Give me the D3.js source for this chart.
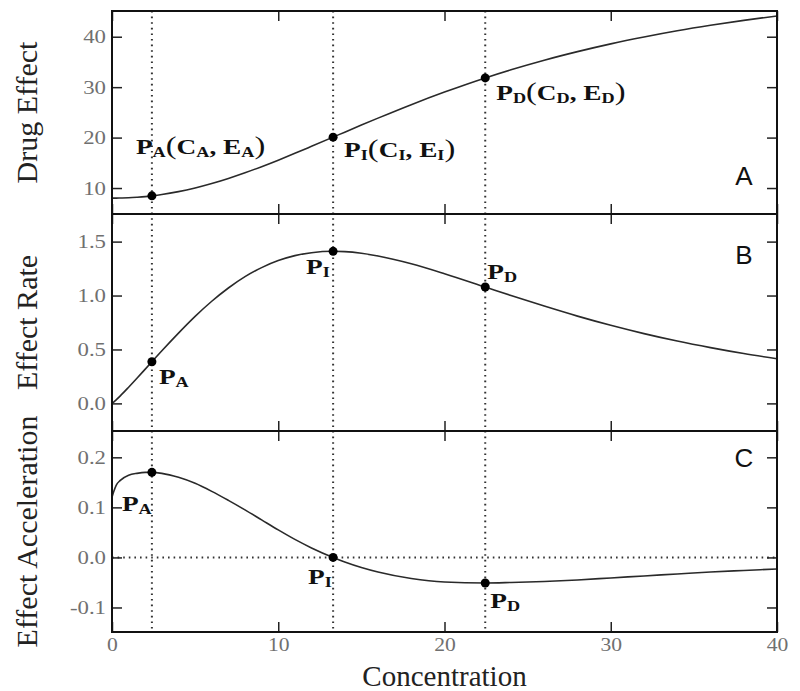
<!DOCTYPE html>
<html>
<head>
<meta charset="utf-8">
<script src="https://cdn.jsdelivr.net/npm/d3@7"></script>
<style>
  body { margin: 0; background: #fff; }
</style>
</head>
<body>
<div class="chart"></div>
<script>
// concentration grid
const conc = [0, 0.1, 0.25, 0.5, 1, 1.5, 2, 2.4, 3, 4,
  5, 6, 7, 8, 9, 10, 11, 12, 13.3, 14,
  15, 16, 18, 20, 22.45, 24, 26, 28, 30, 32,
  34, 36, 38, 40]

// panel A: drug effect
const effect = [8.0, 8.0, 8.0, 8.02, 8.07, 8.17, 8.30, 8.45, 8.71, 9.28,
  10.01, 10.89, 11.90, 13.02, 14.24, 15.53, 16.88, 18.27, 20.09, 21.08,
  22.48, 23.86, 26.53, 29.02, 31.83, 33.44, 35.34, 37.04, 38.58, 39.94,
  41.17, 42.26, 43.24, 44.12]

// panel B: effect rate
const rate = [0, 0.012, 0.033, 0.070, 0.150, 0.233, 0.318, 0.386, 0.488, 0.652,
  0.807, 0.947, 1.070, 1.175, 1.259, 1.324, 1.370, 1.397, 1.410, 1.407,
  1.392, 1.367, 1.295, 1.203, 1.079, 1.000, 0.902, 0.809, 0.724, 0.647,
  0.578, 0.517, 0.462, 0.414]

// panel C: effect acceleration
const accel = [0.120, 0.131, 0.144, 0.154, 0.164, 0.168, 0.170, 0.170, 0.168, 0.160,
  0.148, 0.132, 0.114, 0.095, 0.075, 0.055, 0.036, 0.019, 0.000, -0.009,
  -0.020, -0.029, -0.042, -0.049, -0.051, -0.050, -0.048, -0.045, -0.041, -0.037,
  -0.033, -0.029, -0.026, -0.023]

// the three marked points P_A, P_I, P_D
const keyNames = ["A", "I", "D"]
const keyConc = [2.4, 13.3, 22.45]
const keyEffect = [8.45, 20.09, 31.83]
const keyRate = [0.386, 1.410, 1.079]
const keyAccel = [0.170, 0.000, -0.051]

// tick labels
const xTicks = [0, 10, 20, 30, 40]
const effectTicks = [10, 20, 30, 40]
const rateTicks = [0, 0.5, 1.0, 1.5]
const accelTicks = [-0.1, 0, 0.1, 0.2]

const width = 800, height = 691
const left = 112, right = 777
const serif = "'Liberation Serif','Times New Roman',serif"

const svg = d3.select('.chart')
  .append('svg')
  .attr('width', width)
  .attr('height', height)
  .style('background', '#fff')

const x = d3.scaleLinear().domain([0, 40]).range([left, right])

// panel settings (label offsets are pixels from each marked point)
const panels = [
  {top: 11, bottom: 214, domain: [4.85, 45.1], ticks: effectTicks, fmt: d => d,
   values: effect, keys: keyEffect, letter: "A", letterY: 185, title: "Drug Effect",
   labels: [[-16, -42, true], [11, 20, true], [11, 22, true]]},
  {top: 214, bottom: 431, domain: [-0.256, 1.756], ticks: rateTicks, fmt: d => d.toFixed(1),
   values: rate, keys: keyRate, letter: "B", letterY: 264, title: "Effect Rate",
   labels: [[7, 22], [-27, 23], [2, -8]]},
  {top: 431, bottom: 632, domain: [-0.149, 0.2526], ticks: accelTicks, fmt: d => d.toFixed(1),
   values: accel, keys: keyAccel, letter: "C", letterY: 467, title: "Effect Acceleration",
   labels: [[-30, 39], [-25, 27], [5, 25]], zeroLine: true}
]

//label like P_A(C_A, E_A) with subscripts
function pLabel(g, px, py, sub, full) {
  const t = g.append("text")
    .attr("transform", `translate(${px},${py}) scale(1.3,1)`)
    .attr("font-family", serif)
    .attr("font-weight", "bold")
    .attr("font-size", 21)
    .attr("fill", "#111")
  t.append("tspan").text("P")
  t.append("tspan").attr("font-size", 14).attr("dy", 3).text(sub)
  if (full) {
    t.append("tspan").attr("font-weight", "normal").attr("font-size", 25).attr("dy", -3).text("(")
    t.append("tspan").text("C")
    t.append("tspan").attr("font-size", 14).attr("dy", 3).text(sub)
    t.append("tspan").attr("dy", -3).text(", E")
    t.append("tspan").attr("font-size", 14).attr("dy", 3).text(sub)
    t.append("tspan").attr("font-weight", "normal").attr("font-size", 25).attr("dy", -3).text(")")
  }
}

// vertical dotted guides through all panels
svg.append("g")
  .selectAll("line")
  .data(keyConc)
  .join("line")
  .attr("x1", d => x(d)).attr("x2", d => x(d))
  .attr("y1", panels[0].top).attr("y2", panels[2].bottom)
  .attr("stroke", "#333")
  .attr("stroke-width", 2)
  .attr("stroke-dasharray", "1.6,4")

panels.forEach(p => {
  const y = d3.scaleLinear().domain(p.domain).range([p.bottom, p.top])
  const g = svg.append("g")

  if (p.zeroLine) {
    g.append("line")
      .attr("x1", left).attr("x2", right)
      .attr("y1", y(0)).attr("y2", y(0))
      .attr("stroke", "#333")
      .attr("stroke-width", 2)
      .attr("stroke-dasharray", "1.6,4")
  }

  const line = d3.line()
    .x((d, i) => x(conc[i]))
    .y(d => y(d))
    .curve(d3.curveMonotoneX)

  g.append("path")
    .datum(p.values)
    .attr("fill", "none")
    .attr("stroke", "#2a2a2a")
    .attr("stroke-width", 1.6)
    .attr("d", line)

  g.selectAll("circle")
    .data(p.keys)
    .join("circle")
    .attr("cx", (d, i) => x(keyConc[i]))
    .attr("cy", d => y(d))
    .attr("r", 4.5)
    .attr("fill", "#000")

  p.keys.forEach((v, i) => {
    const off = p.labels[i]
    pLabel(g, x(keyConc[i]) + off[0], y(v) + off[1], keyNames[i], off[2])
  })

  // ticks on all four sides, pointing inward
  const yLeft = g.append("g")
    .attr("transform", `translate(${left},0)`)
    .call(d3.axisLeft(y).tickValues(p.ticks).tickSize(-10).tickPadding(5).tickFormat(p.fmt))
  yLeft.selectAll("text")
    .attr("transform", "scale(1.2,1)")
    .attr("font-family", serif)
    .attr("font-size", 19)
    .attr("fill", "#707070")

  g.append("g")
    .attr("transform", `translate(${right},0)`)
    .call(d3.axisRight(y).tickValues(p.ticks).tickSize(-10).tickFormat(""))

  g.append("g")
    .attr("transform", `translate(0,${p.top})`)
    .call(d3.axisTop(x).tickValues(xTicks).tickSize(-10).tickFormat(""))

  const xb = g.append("g")
    .attr("transform", `translate(0,${p.bottom})`)
    .call(d3.axisBottom(x).tickValues(xTicks).tickSize(-10).tickPadding(6)
      .tickFormat(p.letter === "C" ? d => d : ""))
  xb.selectAll("text")
    .attr("transform", "scale(1.2,1)")
    .attr("font-family", serif)
    .attr("font-size", 18)
    .attr("fill", "#707070")

  g.selectAll(".domain").remove()
  g.selectAll(".tick line").attr("stroke", "#222").attr("stroke-width", 1.5)

  g.append("rect")
    .attr("x", left).attr("y", p.top)
    .attr("width", right - left).attr("height", p.bottom - p.top)
    .attr("fill", "none")
    .attr("stroke", "#111")
    .attr("stroke-width", 2)

  g.append("text")
    .attr("x", 744).attr("y", p.letterY)
    .attr("text-anchor", "middle")
    .attr("font-family", "'Liberation Sans',Arial,sans-serif")
    .attr("font-size", 26)
    .attr("fill", "#111")
    .text(p.letter)

  g.append("text")
    .attr("transform", `translate(37,${(p.top + p.bottom) / 2}) rotate(-90)`)
    .attr("text-anchor", "middle")
    .attr("font-family", serif)
    .attr("font-size", 30)
    .attr("fill", "#222")
    .text(p.title)
})

svg.append("text")
  .attr("x", (left + right) / 2)
  .attr("y", 686)
  .attr("text-anchor", "middle")
  .attr("font-family", serif)
  .attr("font-size", 29)
  .attr("fill", "#222")
  .text("Concentration")
</script>
</body>
</html>
